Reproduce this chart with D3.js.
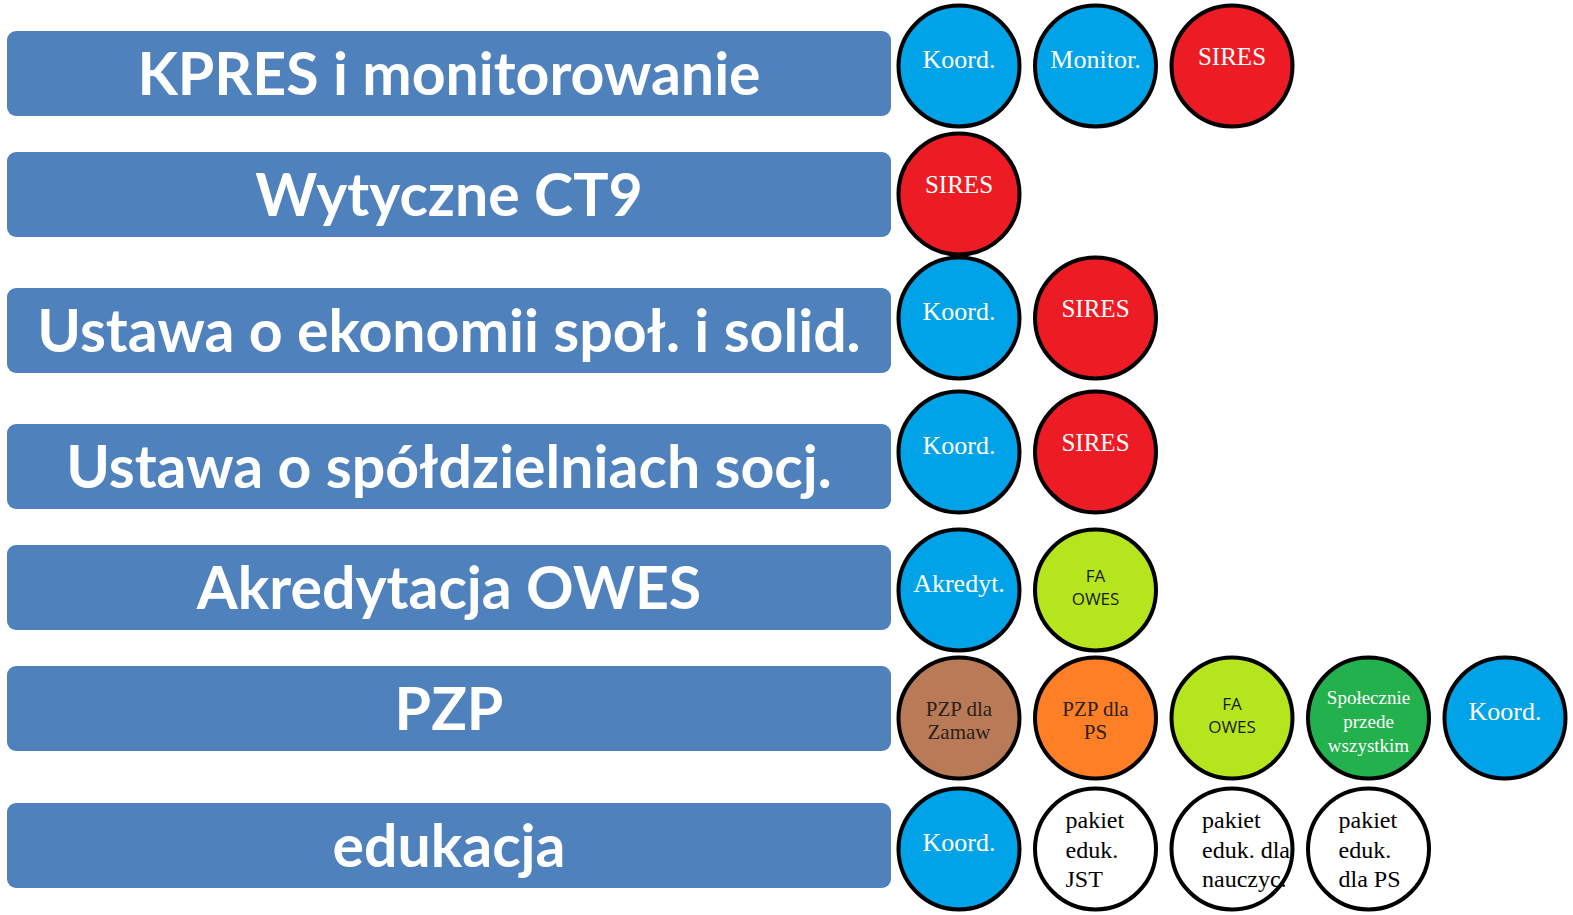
<!DOCTYPE html>
<html>
<head>
<meta charset="utf-8">
<script src="https://cdn.jsdelivr.net/npm/d3@7"></script>
<style>
  html, body { margin: 0; padding: 0; background: #fff; }
  svg { display: block; }
</style>
</head>
<body>
<div id="chart"></div>
<script>
// ---------------- DATA ----------------
const categories = [
  "KPRES i monitorowanie",
  "Wytyczne CT9",
  "Ustawa o ekonomii społ. i solid.",
  "Ustawa o spółdzielniach socj.",
  "Akredytacja OWES",
  "PZP",
  "edukacja"
];

// labels of the circles in each row (lines separated with \n)
const circleLabels = [
  ["Koord.", "Monitor.", "SIRES"],
  ["SIRES"],
  ["Koord.", "SIRES"],
  ["Koord.", "SIRES"],
  ["Akredyt.", "FA\nOWES"],
  ["PZP dla\nZamaw", "PZP dla\nPS", "FA\nOWES", "Społecznie\nprzede\nwszystkim", "Koord."],
  ["Koord.", "pakiet\neduk.\nJST", "pakiet\neduk. dla\nnauczyc.", "pakiet\neduk.\ndla PS"]
];

// kind of each circle (drives colour / typography)
const circleKinds = [
  ["blue", "blue", "red"],
  ["red"],
  ["blue", "red"],
  ["blue", "red"],
  ["blue", "lime"],
  ["brown", "orange", "lime", "green", "blue"],
  ["blue", "white", "white", "white"]
];

// ---------------- LAYOUT / STYLE ----------------
const W = 1573, H = 915;
const barLeft = 7, barRight = 891, barH = 85, barRadius = 9;
const barTops = [31, 152, 288, 424, 545, 666, 803];
const circleRowY = [66, 194, 318, 452, 590, 718, 849];
const circleR = 60.5;

const kindStyle = {
  blue:   { fill: "#00A2E8", color: "#ffffff", font: "'Liberation Serif','Times New Roman',serif", size: 26, lh: 26, first: 2,   anchor: "middle", dx: 0 },
  red:    { fill: "#ED1C24", color: "#ffffff", font: "'Liberation Serif','Times New Roman',serif", size: 25, lh: 25, first: -1,  anchor: "middle", dx: 0 },
  lime:   { fill: "#B5E61D", color: "#1a1a1a", font: "'Open Sans','Liberation Sans',sans-serif",   size: 17, lh: 23, first: -8,  anchor: "middle", dx: 0 },
  brown:  { fill: "#B97A57", color: "#2a2118", font: "'Liberation Serif','Times New Roman',serif", size: 21, lh: 23, first: -2,  anchor: "middle", dx: 0 },
  orange: { fill: "#FF7F27", color: "#2a2118", font: "'Liberation Serif','Times New Roman',serif", size: 21, lh: 23, first: -2,  anchor: "middle", dx: 0 },
  green:  { fill: "#22B14C", color: "#ffffff", font: "'Liberation Serif','Times New Roman',serif", size: 19, lh: 24, first: -14, anchor: "middle", dx: 0 },
  white:  { fill: "#ffffff", color: "#000000", font: "'Liberation Serif','Times New Roman',serif", size: 24, lh: 29.5, first: -21, anchor: "start", dx: -30 }
};

// ---------------- SCALES ----------------
const rowTop = d3.scaleOrdinal().domain(categories).range(barTops);
const rowCircleY = d3.scaleOrdinal().domain(categories).range(circleRowY);
const colX = d3.scaleLinear().domain([0, 4]).range([959, 1505]);

// ---------------- DRAW ----------------
const svg = d3.select("#chart").append("svg")
  .attr("width", W).attr("height", H)
  .attr("viewBox", `0 0 ${W} ${H}`);

svg.append("rect").attr("width", W).attr("height", H).attr("fill", "#ffffff");

const rows = svg.selectAll("g.row")
  .data(categories.map((c, i) => ({ cat: c, i })))
  .join("g").attr("class", "row");

rows.append("rect")
  .attr("x", barLeft)
  .attr("y", d => rowTop(d.cat))
  .attr("width", barRight - barLeft)
  .attr("height", barH)
  .attr("rx", barRadius).attr("ry", barRadius)
  .attr("fill", "#4F81BD");

rows.append("text")
  .attr("x", (barLeft + barRight) / 2)
  .attr("y", d => rowTop(d.cat) + barH / 2 + 21)
  .attr("text-anchor", "middle")
  .attr("fill", "#ffffff")
  .style("font-family", "Lato, 'Open Sans', sans-serif")
  .style("font-weight", "700")
  .style("font-size", "59px")
  .text(d => d.cat);

const circles = [];
categories.forEach((c, i) => {
  circleLabels[i].forEach((lab, j) => {
    circles.push({ cat: c, col: j, label: lab, kind: circleKinds[i][j] });
  });
});

const cg = svg.selectAll("g.circ")
  .data(circles)
  .join("g").attr("class", "circ")
  .attr("transform", d => `translate(${colX(d.col)},${rowCircleY(d.cat)})`);

cg.append("circle")
  .attr("r", circleR)
  .attr("fill", d => kindStyle[d.kind].fill)
  .attr("stroke", "#000")
  .attr("stroke-width", 4);

cg.each(function(d) {
  const s = kindStyle[d.kind];
  const lines = d.label.split("\n");
  const t = d3.select(this).append("text")
    .attr("text-anchor", s.anchor)
    .attr("fill", s.color)
    .style("font-family", s.font)
    .style("font-size", s.size + "px");
  lines.forEach((ln, k) => {
    t.append("tspan")
      .attr("x", s.dx)
      .attr("y", s.first + k * s.lh)
      .text(ln);
  });
});
</script>
</body>
</html>
